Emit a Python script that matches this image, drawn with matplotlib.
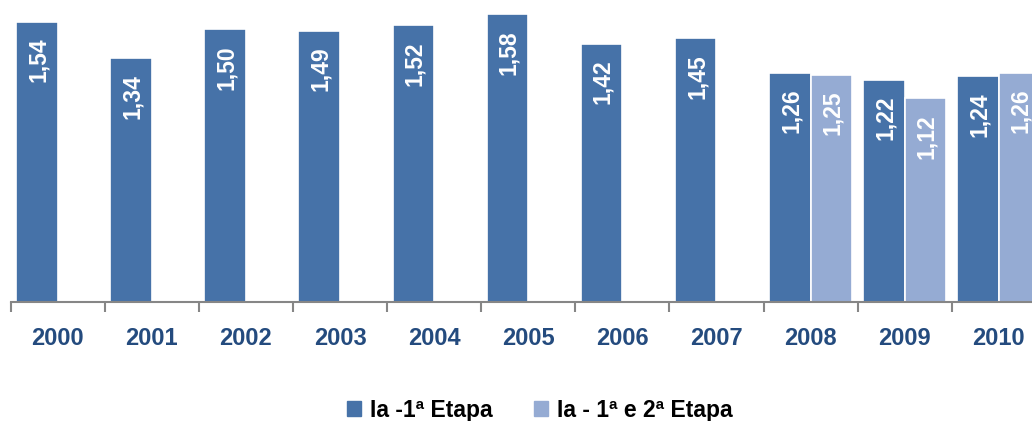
import numpy as np
import matplotlib
matplotlib.use('Agg')
import matplotlib.pyplot as plt
from matplotlib.patches import Patch

# Data
years = ['2000', '2001', '2002', '2003', '2004', '2005', '2006', '2007', '2008', '2009', '2010']
etapa1 = [1.54, 1.34, 1.50, 1.49, 1.52, 1.58, 1.42, 1.45, 1.26, 1.22, 1.24]
etapa12 = [np.nan, np.nan, np.nan, np.nan, np.nan, np.nan, np.nan, np.nan, 1.25, 1.12, 1.26]
series_names = ['Ia -1ª Etapa', 'Ia - 1ª e 2ª Etapa']

c_dark = '#4672A8'
c_light = '#95ABD3'
c_year = '#244B7E'

plt.rcParams['font.family'] = ['Liberation Sans', 'DejaVu Sans']

fig = plt.figure(figsize=(10.32, 4.21), dpi=100)
ax = fig.add_axes([10.7 / 1032, 1 - 302 / 421, 1 - 10.7 / 1032, 302 / 421])

x = np.arange(len(years))
w = 0.442
b1 = ax.bar(x - w / 2, etapa1, width=w, color=c_dark, edgecolor='white', linewidth=1.2)
b2 = ax.bar(x + w / 2, etapa12, width=w, color=c_light, edgecolor='white', linewidth=1.2)

for bars, vals in [(b1, etapa1), (b2, etapa12)]:
    for rect, v in zip(bars, vals):
        if np.isnan(v):
            continue
        ax.annotate(f'{v:.2f}'.replace('.', ','),
                    (rect.get_x() + rect.get_width() / 2, v),
                    xytext=(1, -11.5), textcoords='offset points',
                    rotation=90, ha='center', va='top',
                    color='white', fontsize=16.5, fontweight='bold')

for s in ['top', 'right', 'left']:
    ax.spines[s].set_visible(False)
ax.spines['bottom'].set_color('#868686')
ax.spines['bottom'].set_linewidth(1.5)

ax.set_yticks([])
ax.set_xticks(x)
ax.set_xticklabels(years, fontsize=17, fontweight='bold', color=c_year)
ax.set_xticks(np.arange(-0.5, len(years), 1), minor=True)
ax.tick_params(axis='x', which='major', length=0, pad=18)
ax.tick_params(axis='x', which='minor', length=7, width=1.5, color='#868686', direction='out')

# limits after ticks so they are not expanded
ax.set_xlim(-0.5, -0.5 + (1032 - 10.7) / 94.1)
ax.set_ylim(0, 302 / 182)

handles = [Patch(color=c_dark), Patch(color=c_light)]
fig.legend(handles, series_names, loc='center', bbox_to_anchor=(0.523, 11 / 421),
           ncol=2, frameon=False, handlelength=0.6, handleheight=0.6,
           handletextpad=0.4, columnspacing=1.8,
           prop={'size': 16.5, 'weight': 'bold'})

fig.savefig('out.png', dpi=100)
